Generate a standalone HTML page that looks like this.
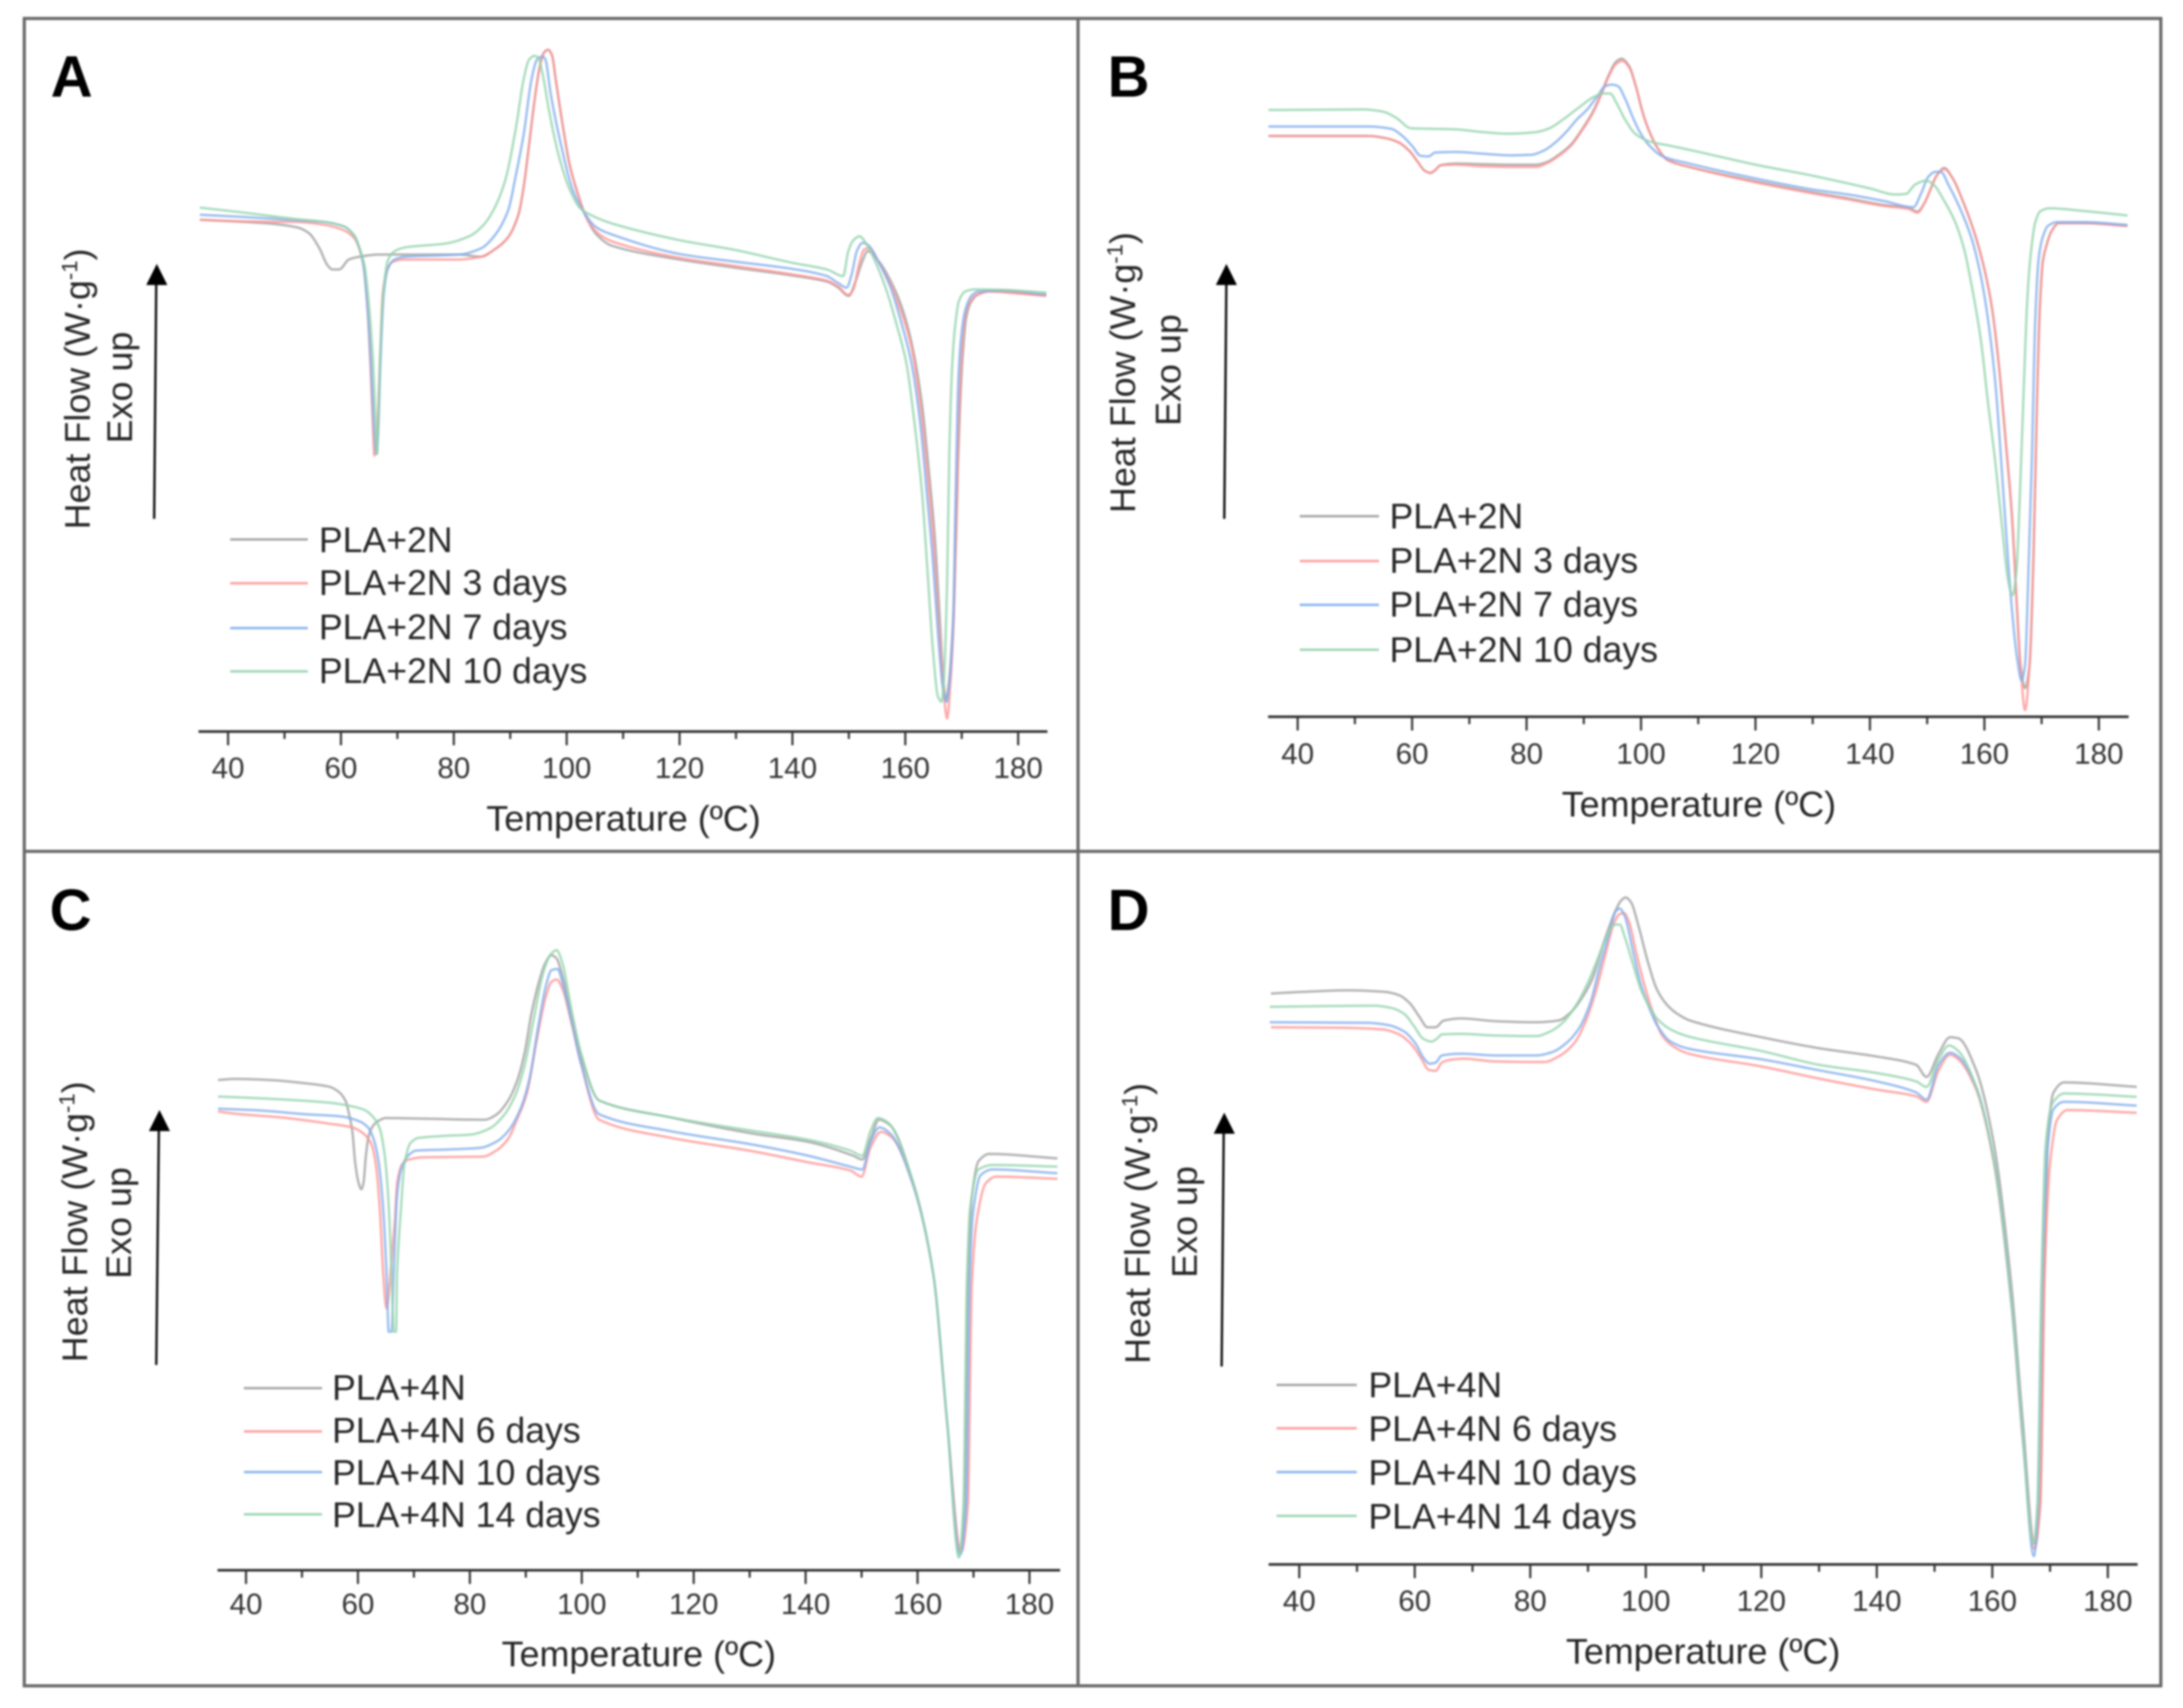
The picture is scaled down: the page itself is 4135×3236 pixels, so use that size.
<!DOCTYPE html>
<html lang="en">
<head>
<meta charset="utf-8">
<title>DSC thermograms of PLA+2N and PLA+4N</title>
<style>
html,body{margin:0;padding:0;background:#fff;width:4135px;height:3236px;overflow:hidden}
svg{display:block;filter:blur(1.8px)}
text{font-family:"Liberation Sans",sans-serif;fill:#262626}
.lg{font-size:67.5px}
.ax{font-size:68px}
.pl{font-size:110px;font-weight:bold;fill:#000}
.tk{font-size:56px;fill:#333;text-anchor:middle}
.leg{stroke-width:4.5;fill:none}
.arrow{stroke:#111;stroke-width:4.5;fill:none}
</style>
</head>
<body>
<svg id="chart" xmlns="http://www.w3.org/2000/svg" width="4135" height="3236" viewBox="0 0 4135 3236">
<rect width="4135" height="3236" fill="#fff"/>
<g stroke="#6a6a6a" stroke-width="6" fill="none">
<rect x="46" y="35" width="4047" height="3159"/>
<line x1="2042" y1="35" x2="2042" y2="3194"/>
<line x1="46" y1="1613" x2="4093" y2="1613"/>
</g>

<g id="panel-a">
<text class="pl" x="96" y="183">A</text>
<text class="ax" transform="translate(170,1003) rotate(-90)">Heat Flow (W·g<tspan font-size="42" dy="-24">-1</tspan><tspan dy="24">)</tspan></text>
<text class="ax" transform="translate(250,840) rotate(-90)">Exo up</text>
<line class="arrow" x1="292" y1="983" x2="296" y2="530"/>
<polygon points="297,500 277,540 317,540" fill="#000"/>
<text class="ax" x="1181" y="1574" text-anchor="middle">Temperature (ºC)</text>
<g>
<line class="leg" x1="436" x2="583" y1="1022" y2="1022" stroke="#a5a5a5"/>
<text class="lg" x="604" y="1046">PLA+2N</text>
<line class="leg" x1="436" x2="583" y1="1105" y2="1105" stroke="#ff9d9d"/>
<text class="lg" x="604" y="1127">PLA+2N 3 days</text>
<line class="leg" x1="436" x2="583" y1="1190" y2="1190" stroke="#8ab4f0"/>
<text class="lg" x="604" y="1211">PLA+2N 7 days</text>
<line class="leg" x1="436" x2="583" y1="1272" y2="1272" stroke="#9bd6b2"/>
<text class="lg" x="604" y="1294">PLA+2N 10 days</text>
</g>
</g>

<g id="panel-b">
<text class="pl" x="2098" y="183">B</text>
<text class="ax" transform="translate(2150,972) rotate(-90)">Heat Flow (W·g<tspan font-size="42" dy="-24">-1</tspan><tspan dy="24">)</tspan></text>
<text class="ax" transform="translate(2236,807) rotate(-90)">Exo up</text>
<line class="arrow" x1="2319" y1="983" x2="2323" y2="530"/>
<polygon points="2323,500 2303,540 2343,540" fill="#000"/>
<text class="ax" x="3218" y="1547" text-anchor="middle">Temperature (ºC)</text>
<g>
<line class="leg" x1="2462" x2="2612" y1="978" y2="978" stroke="#a5a5a5"/>
<text class="lg" x="2632" y="1001">PLA+2N</text>
<line class="leg" x1="2462" x2="2612" y1="1063" y2="1063" stroke="#ff9d9d"/>
<text class="lg" x="2632" y="1085">PLA+2N 3 days</text>
<line class="leg" x1="2462" x2="2612" y1="1146" y2="1146" stroke="#8ab4f0"/>
<text class="lg" x="2632" y="1168">PLA+2N 7 days</text>
<line class="leg" x1="2462" x2="2612" y1="1231" y2="1231" stroke="#9bd6b2"/>
<text class="lg" x="2632" y="1254">PLA+2N 10 days</text>
</g>
</g>

<g id="panel-c">
<text class="pl" x="94" y="1762">C</text>
<text class="ax" transform="translate(165,2581) rotate(-90)">Heat Flow (W·g<tspan font-size="42" dy="-24">-1</tspan><tspan dy="24">)</tspan></text>
<text class="ax" transform="translate(248,2423) rotate(-90)">Exo up</text>
<line class="arrow" x1="296" y1="2586" x2="301" y2="2133"/>
<polygon points="302,2103 282,2143 322,2143" fill="#000"/>
<text class="ax" x="1210" y="3157" text-anchor="middle">Temperature (ºC)</text>
<g>
<line class="leg" x1="462" x2="610" y1="2630" y2="2630" stroke="#a5a5a5"/>
<text class="lg" x="629" y="2652">PLA+4N</text>
<line class="leg" x1="462" x2="610" y1="2712" y2="2712" stroke="#ff9d9d"/>
<text class="lg" x="629" y="2733">PLA+4N 6 days</text>
<line class="leg" x1="462" x2="610" y1="2789" y2="2789" stroke="#8ab4f0"/>
<text class="lg" x="629" y="2813">PLA+4N 10 days</text>
<line class="leg" x1="462" x2="610" y1="2869" y2="2869" stroke="#9bd6b2"/>
<text class="lg" x="629" y="2893">PLA+4N 14 days</text>
</g>
</g>

<g id="panel-d">
<text class="pl" x="2098" y="1762">D</text>
<text class="ax" transform="translate(2178,2584) rotate(-90)">Heat Flow (W·g<tspan font-size="42" dy="-24">-1</tspan><tspan dy="24">)</tspan></text>
<text class="ax" transform="translate(2267,2421) rotate(-90)">Exo up</text>
<line class="arrow" x1="2314" y1="2589" x2="2318" y2="2138"/>
<polygon points="2319,2108 2299,2148 2339,2148" fill="#000"/>
<text class="ax" x="3226" y="3152" text-anchor="middle">Temperature (ºC)</text>
<g>
<line class="leg" x1="2418" x2="2570" y1="2624" y2="2624" stroke="#a5a5a5"/>
<text class="lg" x="2592" y="2647">PLA+4N</text>
<line class="leg" x1="2418" x2="2570" y1="2706" y2="2706" stroke="#ff9d9d"/>
<text class="lg" x="2592" y="2730">PLA+4N 6 days</text>
<line class="leg" x1="2418" x2="2570" y1="2789" y2="2789" stroke="#8ab4f0"/>
<text class="lg" x="2592" y="2813">PLA+4N 10 days</text>
<line class="leg" x1="2418" x2="2570" y1="2872" y2="2872" stroke="#9bd6b2"/>
<text class="lg" x="2592" y="2896">PLA+4N 14 days</text>
</g>
</g>
</svg>

<script>
// Tick values shared by all panels (degrees C)
const majorTicks = [40,60,80,100,120,140,160,180];
const minorTicks = [50,70,90,110,130,150,170];

// Panel A: temperature (T) and heat-flow (V, arbitrary units above axis)
const aGrayT = [35,47.6,52.3,54.3,56.2,57.6,58.5,59.7,61.4,63.3,66.7,81,84.8,87.2,89.6,91.5,92.4,93.4,94.3,95.3,96,96.7,97.4,98.1,99.3,100.5,102,103.4,105.3,108,120,130,140,146.1,148,150,151.1,152.4,153.3,155.5,157.7,159.6,161.4,163,164.2,165.2,166.1,166.7,167.2,167.7,168.5,169.1,169.7,170.2,170.8,171.6,172.8,174.8,185];
const aGrayV = [92.7,92,91.3,90.3,87.5,84.5,83.7,83.7,85.5,86,86.4,86.4,86,87.3,89.5,93.8,98.8,106.8,114.3,120.8,123,123.5,122.5,117.8,109.8,102.8,97.3,93.3,90,88,85.5,84,82.6,81.5,80.5,78.9,81.3,85.2,87,84.9,81,76.2,69,58.9,46.9,35.6,20.7,9.9,5.7,8.7,20.7,41.6,58.9,68.5,75,77.7,79.1,79.7,79];
const aRedT = [35,43,52,57,60.5,62.4,63.3,64,64.7,65.2,65.7,65.9,66.4,66.9,67.4,68.1,69,71,81,84.8,87.2,89.6,91.5,92.4,93.4,94.3,95.3,96,96.7,97.4,98.1,99.3,100.5,102,103.4,105.3,108,120,130,140,146,148,149.9,150.8,151.8,152.7,153.6,155.5,157.4,159.2,161.1,162.7,163.9,164.9,165.8,166.7,167.4,168,168.6,169.2,169.5,170,170.6,171.4,172.7,174.8,180.5,185];
const aRedV = [92.7,92.4,92.3,91.8,90.8,89.3,87.3,84.3,76.8,66.8,54.3,50,54.3,66.8,79.3,83.3,85,85.5,85.5,86,87.3,89.5,93.8,98.8,106.8,114.3,120.8,123,123.5,122.5,117.8,109.8,102.8,97.3,93.3,90.5,88.8,85.8,84.3,82.8,81.7,80.7,79.1,80.1,84.6,87.3,87.6,84.6,81,76.2,69.6,58.9,46.9,35.6,20.7,8.7,2.4,8.7,20.7,41.6,56.5,68.5,75,77.7,79.1,79.7,79.3,78.9];
const aBlueT = [35,42.8,52.3,57.1,60.5,62.4,63.3,64,64.7,65.3,65.9,66.3,66.6,67,67.6,68.3,69.5,71.4,81,84.8,87.2,89.6,91,92.4,93.8,94.8,95.7,96.2,97.2,99.1,101,102.9,105.3,108.1,120,130,140,146.1,148,149.6,150.5,151.4,152.4,153.3,155.2,157.4,159.2,161.1,162.7,163.9,164.9,165.8,166.7,167.3,167.8,168.5,168.9,169.4,169.9,170.6,171.7,173,177.3,185];
const aBlueV = [93.6,93.2,92.6,92.3,91.5,89.8,87.5,84.3,76.8,66.8,54.3,50.3,54.3,66.8,79.3,83.8,85.5,86,86.4,87.5,89.8,94.3,100.8,108.3,118.3,121.8,122.3,121.8,115.3,105.8,98.3,94.3,91.3,90,86.5,85.1,83.8,82.5,81.3,80.4,82.8,87,88.5,88.2,85.2,80.4,74.4,66.7,55.3,42.2,30.8,17.7,7.5,5.4,8.7,20.7,41.6,63.7,71.4,76.2,78.9,79.7,79.9,79.2];
const aGreenT = [35,42.8,52.3,57.1,60.5,62.4,63.3,64.2,65,65.7,66.2,66.4,66.6,66.9,67.5,68.3,69.5,71.4,78.6,82.9,85.3,87.2,89.1,91,92.4,93.4,94.3,95,95.7,96.9,98.6,100.5,102.4,104.8,108.1,120,130,140,146.1,149,149.9,150.8,151.9,153,154.9,156.7,158.6,160.2,161.7,163,163.9,164.9,165.8,166.4,166.8,167.4,167.8,168.3,168.8,169.5,170.6,172.3,177.3,185];
const aGreenV = [94.9,94,92.8,92.3,91.5,89.8,87.5,84.3,76.8,66.8,54.3,50.3,54.3,66.8,79.3,85.3,87,87.7,88.4,89.8,91.8,94.8,99.8,109.3,118.3,121.8,122.4,122,119.3,112.3,104.3,98.3,94.8,93.3,92,89,87.2,84.9,83.7,82.5,87,89,89.7,88.5,84.6,79.8,73.2,66.7,55.3,42.8,29.6,14.7,6.3,5.4,8.7,26.6,50.5,66,73.2,78,79.7,80.1,80,79.5];

// Panel B
const bGrayT = [34.9,52.5,55.4,57.7,59.6,61,62.2,63.2,64,65,67.6,72.3,77,81.7,83.6,85.5,87.8,89.7,91.6,93,94.4,95.6,96.6,97.9,99.1,100.3,101.5,102.9,104.7,108.4,120,130,136.2,142.5,146.7,148.3,149.5,150.8,151.7,153,154.3,156.5,158.4,160,161.3,162.5,163.8,164.8,165.7,166.3,167.1,167.9,168.6,169.2,169.7,170.2,170.8,171.7,173,177.5,185];
const bGrayV = [105.2,105.2,104.8,104,102.4,100.5,98.9,98.5,99,99.9,100.2,100.1,100,100,100.5,101.7,103.7,106.4,109.6,112.8,116.3,118.6,119.2,117.9,114.2,109.4,105.9,103,100.8,99.6,97,95,93.9,92.7,92.2,91.5,93,96.1,98.1,99.4,97.8,92.7,87.2,81.1,74.2,64,49,36.7,19.6,9.4,5.2,9.4,29.8,57.2,74.2,82.4,85.2,87.9,89.4,89.4,88.9];
const bRedT = [34.9,52.5,55.4,57.7,59.6,61,62.2,63.2,64,65,67.6,72.3,77,81.7,83.6,85.5,87.8,89.7,91.6,93,94.4,95.6,96.7,97.9,99.1,100.3,101.5,102.9,104.7,108.4,120,130,136.2,142.5,146.7,148.3,149.5,150.8,151.7,153,154.3,156.5,158.4,160,161.3,162.5,163.8,164.8,165.7,166.3,167.1,167.9,168.6,169.2,169.7,170.2,170.8,171.7,173,177.5,185];
const bRedV = [105.2,105.2,104.8,104,102.4,100.5,98.9,98.5,99,99.9,100,99.7,99.6,99.6,100.3,101.5,103.5,106.2,109.4,112.6,116.1,118.2,118.8,117.7,114.2,109.4,105.9,103,100.8,99.6,96.8,94.8,93.7,92.5,92,91.3,93,96.1,98.1,99.2,97.8,92.7,87.2,81.1,74.2,64,49,36.7,19.6,9.4,1.2,9.4,29.8,57.2,74.2,82.4,85.2,87.9,89.4,89.4,88.9];
const bBlueT = [34.9,52.5,56.3,58.2,60,61.5,62.9,64,67.6,72.3,77,80.8,83.1,85,86.9,88.8,90.6,92.5,93.7,94.9,96,97.2,98.6,99.8,101.5,103.8,108.4,120,130,136.2,142.5,147.6,148.9,150.2,151.4,152.4,153.7,155.9,157.8,159.4,160.6,161.9,162.9,163.8,164.8,165.7,166.5,167.1,167.6,168.3,168.9,169.5,170.2,171.1,172.7,177.5,185];
const bBlueV = [106.9,106.9,106.5,105.3,103.4,101.6,101.5,102.2,102.3,102,101.7,101.8,102.6,104,105.9,108.2,110,112.6,114.2,114.5,114.2,112,108.5,105.9,103.4,101.5,100.2,97.5,95.5,94.6,93.4,92.3,94.7,97.8,98.7,98.7,96.4,91.7,86.5,79.7,72.2,60.6,46.9,33.3,19.6,10.7,6.6,9.4,23,46.9,72.2,83.1,86.9,88.9,89.6,89.6,89.1];
const bGreenT = [34.9,51.6,54.9,57.2,59.8,67.6,72.3,77,81.7,84,86.4,89.2,91.8,93.5,94.6,95.8,97.2,99.1,101.5,105.2,108.4,120,130,136.2,140,144.5,146.3,147.9,149.8,151.1,153,154.9,156.5,158.1,159.4,160.6,161.9,163.2,164.1,164.9,165.6,166.2,166.8,167.5,168.1,168.9,169.8,171.4,177.5,185];
const bGreenV = [109.9,110,109.6,108.5,106.6,106.4,105.9,105.6,105.9,106.6,108.2,110.4,112.3,112.9,112.9,111,108.2,105.5,104.2,103.4,102.7,100,98,96.6,95.7,94.6,94.7,96.4,97.1,96.4,93.4,89.6,84.5,76.3,68.1,57.2,46.2,33.3,25,22,26.4,40,57.2,75.6,83.8,89.6,91.6,92.1,91.6,90.8];

// Panel C
const cGrayT = [35,38,44.3,50.6,54.8,56.5,57.8,58.4,59,59.5,60.1,60.6,61,61.4,61.8,62.4,63.5,65,71.7,82.6,84.7,86.8,88.5,89.8,91,92.3,93.4,94.6,95.5,96.5,98.2,99.8,103.1,115.5,130.5,140.4,148.5,150.1,151.6,153.1,155.1,159.1,162.8,165.3,167.6,168.4,169,169.7,170.9,172.8,185];
const cGrayV = [88.8,89,88.8,88.2,87.6,86.7,85,82.7,79.5,73.9,70.2,69,70.2,74.8,78.1,80,81.3,81.9,81.8,81.6,82.5,85,88.8,93.8,100.8,106.4,109.8,111.4,110.8,107.8,100.3,93.4,85.1,82.1,79.1,77.6,75.1,74.4,78.1,81.6,80.6,70.6,53.7,26.7,3.3,11.8,51.7,67.6,74.1,75.4,74.6];
const cRedT = [35,38,46.4,54.8,59,61.1,62.4,63.2,63.9,64.5,65.1,66.2,66.6,67,67.9,69.1,71.7,82.2,84.7,86.8,88.5,90.2,91.9,93.6,94.6,95.5,96.5,98.2,99.8,103.1,115.5,130.5,140.4,148,150,151.6,153.5,155.4,159.1,162.8,165.3,167.8,169,169.7,170.6,172.2,174,185];
const cRedV = [83.1,82.7,82,80.9,80.2,79,77.2,73.5,65.6,54,47.5,58.6,63.3,70.2,73.5,74.4,74.8,74.9,76,78.1,81.8,86.4,95.7,104,106.6,107,105.4,98.9,92,81.6,78.4,75.9,73.9,72.4,71.3,76.6,79.4,78.4,70.1,53.7,26.7,3.3,11.8,51.7,63.6,70.1,71.3,70.9];
const cBlueT = [35,42.2,50.6,57,60.3,61.8,62.8,63.7,64.5,65.1,65.5,66,66.4,67,67.7,68.7,70.4,75.9,81.8,84.7,86.8,88.9,90.6,92.3,93.6,94.6,95.7,96.5,98.2,99.8,103.1,115.5,130.5,140.4,148,150.1,151.6,153.2,155.1,159.1,162.8,165.3,167.6,168.7,169.3,169.9,171.3,173.4,185];
const cBlueV = [83.6,83.3,82.6,82.2,81.3,80.2,78.1,73.9,65.6,54,43.2,43.2,54,67.9,72.5,74.8,76,76.2,76.5,77.6,79.5,83.2,88.8,99,105.9,108.7,108.9,106.6,99.4,92,82.6,79.6,77.1,75.1,73.1,72.6,77.6,80.2,79.1,70.1,53.7,26.7,2.8,11.8,51.7,64.6,71.6,72.6,71.9];
const cGreenT = [35,44.3,54.8,58.6,61.1,62.8,63.9,64.7,65.4,66,66.4,66.8,67,67.7,68.3,69.4,70.8,75.9,80.1,83.5,86,88.1,89.8,91.5,93.1,94.4,95.5,96.5,98.2,99.8,103.1,115.5,130.5,140.4,148,150.1,151.6,152.9,154.7,159.1,162.8,165.3,167.4,168.2,168.8,169.4,170.9,173.4,185];
const cGreenV = [85.8,85.4,84.7,84.1,83.4,82,80,75.8,67.9,54,43.2,43.2,54,65.6,73.5,77.4,78.3,78.7,78.9,80,82.3,86,91.5,100.3,108.2,111.5,112.3,110.1,101.3,93.9,85.1,82.1,79.6,78,76,75.1,79.6,81.9,81.1,70.6,53.7,26.7,2.3,11.8,51.7,65.6,72.6,73.4,73.1];

// Panel D
const dGrayT = [35.1,40.5,48.4,54.9,57.3,59.1,60.8,62.2,63.6,65,68,74,81,84.8,87.1,89.2,90.8,92.7,94.6,95.7,96.5,97.4,98.8,100.4,102,103.9,105.8,107.7,120,130,140,146.8,148.6,150.7,152.7,154.1,157.2,160.2,163.3,165.3,167.3,168.3,169,169.7,170.6,172.4,185];
const dGrayV = [103.4,103.7,104,103.7,103.1,101.7,99.2,97.3,97.3,98.5,98.9,98.4,98.2,98.5,100.1,103,106.2,112.6,118,120.2,120.8,120,115.4,109,104,101.1,99.5,98.5,95.5,93.5,92,90.5,88.3,92.5,95.5,95.3,89.5,76.6,50.6,25.7,3.8,10.8,50.6,78.6,85.5,87.3,86.5];
const dRedT = [35.1,47.5,54.5,57.3,59.6,61.2,62.4,63.6,64.7,66.1,68.5,74,82.4,85.2,87.6,89.4,91.3,92.9,94.6,95.5,96.2,97.1,98.3,99.7,101.1,102.9,104.8,107.5,120,130,140,146.8,148.6,150.7,152.7,154.1,157.2,160.2,163.3,165.3,167.3,168.3,169,170,171.2,173,185];
const dRedV = [97.3,97.2,96.9,96,94,91.5,89.6,89.4,90.9,91.4,91.6,91.1,91,92.2,94.4,97.9,103.6,110,116.4,117.8,118,116.4,111,105.2,100.4,95.7,93.8,92.5,90.2,88,86,84.8,83.8,89.5,92.3,91.5,86,73.1,47.1,22.2,2.8,10.8,50.6,72.6,80.5,82.3,81.8];
const dBlueT = [34.9,51.7,55.4,58.2,60.1,61.5,62.6,63.6,64.7,68,74,81,83.8,86.2,88.5,90.4,92.2,93.6,94.8,95.5,96.4,97.8,99.2,100.6,102,104.3,107.5,120,130,140,146.8,148.6,150.7,152.7,154.1,157.2,160.2,163.3,165.3,167.2,167.9,168.6,169.5,170.6,172.4,185];
const dBlueV = [98.2,98.1,97.7,96.5,94.4,91.8,90.7,90.9,92.2,92.5,92.2,92.2,92.8,94.4,97.2,101.7,109,114,118.3,118.8,117.3,111,104.9,100.8,97.6,94.7,93.4,91.5,89.5,87.5,85.5,84.2,90.5,92.7,92,86.5,73.6,47.6,22.7,1.5,10.8,50.6,74.6,82.5,83.8,83.1];
const dGreenT = [34.9,53,55.9,58.2,59.8,61.5,62.9,63.8,64.7,68,74,81,83.4,85.7,88,89.9,91.8,93.4,94.6,95.5,96.4,97.8,99.2,100.6,102,104.3,107.5,120,130,140,146.8,148.6,150.7,152.5,154.1,157.2,160.2,163.3,165.3,167.1,167.8,168.5,169.2,170.4,172.4,185];
const dGreenV = [101,101.2,100.8,99.7,97.6,95.2,94.7,95.2,96,96.1,95.8,95.7,96.5,98.2,101.4,105.2,110,114.2,115.9,115.9,113.5,108.7,104,101.1,98.8,96.9,95.6,93,90.5,89,87.5,86.5,91.5,94,93,86.5,73.6,47.6,22.7,3.8,10.8,50.6,75.6,83.5,85.3,84.7];

const NS = 'http://www.w3.org/2000/svg';
const grayColor = '#a0a0a0', redColor = '#ff9595', blueColor = '#82aeee', greenColor = '#94d3ac';
const yUnit = 10.46;

function smoothPath(xs, ys) {
  const n = xs.length;
  const s = [], m = new Array(n);
  for (let i = 0; i < n - 1; i++) s.push((ys[i + 1] - ys[i]) / (xs[i + 1] - xs[i]));
  m[0] = s[0];
  m[n - 1] = s[n - 2];
  for (let i = 1; i < n - 1; i++) {
    if (s[i - 1] * s[i] <= 0) m[i] = 0;
    else m[i] = 2 * s[i - 1] * s[i] / (s[i - 1] + s[i]);
  }
  let d = 'M' + xs[0].toFixed(1) + ' ' + ys[0].toFixed(1);
  for (let i = 0; i < n - 1; i++) {
    const h = (xs[i + 1] - xs[i]) / 3;
    d += 'C' + (xs[i] + h).toFixed(1) + ' ' + (ys[i] + m[i] * h).toFixed(1) + ' ' +
         (xs[i + 1] - h).toFixed(1) + ' ' + (ys[i + 1] - m[i + 1] * h).toFixed(1) + ' ' +
         xs[i + 1].toFixed(1) + ' ' + ys[i + 1].toFixed(1);
  }
  return d;
}

function drawPanel(id, x40, perDeg, axisY, axisFrom, axisTo, labelY, series) {
  const group = document.getElementById(id);
  const xScale = t => x40 + (t - 40) * perDeg;
  const yScale = v => axisY - v * yUnit;

  series.forEach(sr => {
    const n = Math.min(sr.t.length, sr.v.length);
    const path = document.createElementNS(NS, 'path');
    
    
    path.setAttribute('d', smoothPath(sr.t.slice(0, n).map(xScale), sr.v.slice(0, n).map(yScale)));
    path.setAttribute('fill', 'none');
    path.setAttribute('stroke', sr.color);
    path.setAttribute('stroke-width', '4.5');
    path.setAttribute('stroke-linejoin', 'round');
    path.setAttribute('stroke-opacity', '0.8');
    group.appendChild(path);
  });

  const axis = document.createElementNS(NS, 'line');
  
  
  axis.setAttribute('x1', axisFrom);
  axis.setAttribute('x2', axisTo);
  axis.setAttribute('y1', axisY);
  axis.setAttribute('y2', axisY);
  axis.setAttribute('stroke', '#333');
  axis.setAttribute('stroke-width', '5');
  group.appendChild(axis);

  minorTicks.forEach(t => {
    const tick = document.createElementNS(NS, 'line');
    
    
    tick.setAttribute('x1', xScale(t));
    tick.setAttribute('x2', xScale(t));
    tick.setAttribute('y1', axisY);
    tick.setAttribute('y2', axisY + 14);
    tick.setAttribute('stroke', '#333');
    tick.setAttribute('stroke-width', '4');
    group.appendChild(tick);
  });

  majorTicks.forEach(t => {
    const tick = document.createElementNS(NS, 'line');
    
    
    tick.setAttribute('x1', xScale(t));
    tick.setAttribute('x2', xScale(t));
    tick.setAttribute('y1', axisY);
    tick.setAttribute('y2', axisY + 26);
    tick.setAttribute('stroke', '#333');
    tick.setAttribute('stroke-width', '4');
    group.appendChild(tick);
    const label = document.createElementNS(NS, 'text');
    
    
    label.setAttribute('class', 'tk');
    label.setAttribute('x', xScale(t));
    label.setAttribute('y', labelY);
    label.textContent = String(t);
    group.appendChild(label);
  });
}

drawPanel('panel-a', 432, 10.69, 1386, 376, 1984, 1474, [
  {name:'pla2n', t:aGrayT, v:aGrayV, color:grayColor},
  {name:'pla2n-3-days', t:aRedT, v:aRedV, color:redColor},
  {name:'pla2n-7-days', t:aBlueT, v:aBlueV, color:blueColor},
  {name:'pla2n-10-days', t:aGreenT, v:aGreenV, color:greenColor}
]);
drawPanel('panel-b', 2458, 10.84, 1358, 2402, 4032, 1447, [
  {name:'pla2n', t:bGrayT, v:bGrayV, color:grayColor},
  {name:'pla2n-3-days', t:bRedT, v:bRedV, color:redColor},
  {name:'pla2n-7-days', t:bBlueT, v:bBlueV, color:blueColor},
  {name:'pla2n-10-days', t:bGreenT, v:bGreenV, color:greenColor}
]);
drawPanel('panel-c', 466, 10.6, 2975, 412, 2008, 3058, [
  {name:'pla4n', t:cGrayT, v:cGrayV, color:grayColor},
  {name:'pla4n-6-days', t:cRedT, v:cRedV, color:redColor},
  {name:'pla4n-10-days', t:cBlueT, v:cBlueV, color:blueColor},
  {name:'pla4n-14-days', t:cGreenT, v:cGreenV, color:greenColor}
]);
drawPanel('panel-d', 2461, 10.94, 2964, 2403, 4049, 3052, [
  {name:'pla4n', t:dGrayT, v:dGrayV, color:grayColor},
  {name:'pla4n-6-days', t:dRedT, v:dRedV, color:redColor},
  {name:'pla4n-10-days', t:dBlueT, v:dBlueV, color:blueColor},
  {name:'pla4n-14-days', t:dGreenT, v:dGreenV, color:greenColor}
]);
</script>
</body>
</html>
